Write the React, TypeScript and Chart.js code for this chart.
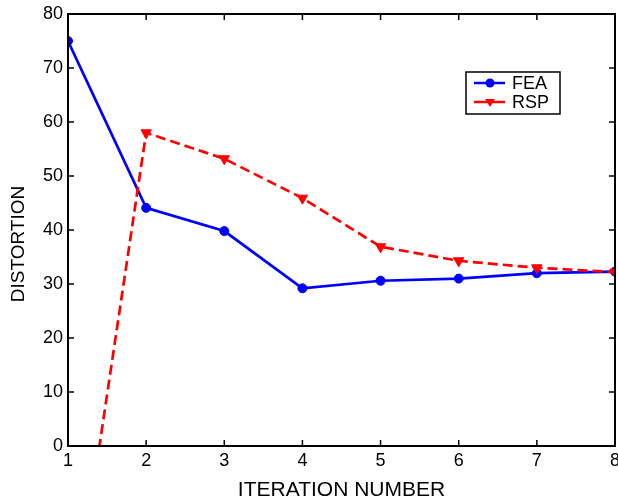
import React, { useEffect, useRef } from "react";
import { Chart, registerables } from "chart.js";

Chart.register(...registerables);

const iterations = [1, 2, 3, 4, 5, 6, 7, 8];
const feaValues = [75, 44.1, 39.8, 29.2, 30.6, 31.0, 32.0, 32.3];
const rspValues = [-39, 58, 53.2, 45.9, 36.9, 34.3, 33.0, 32.2];
const yTicks = [0, 10, 20, 30, 40, 50, 60, 70, 80];
const xTitle = "ITERATION NUMBER";
const yTitle = "DISTORTION";
const FONT = "'Liberation Sans', Arial, Helvetica, sans-serif";

const framePlugin = {
  id: "frameTicks",
  afterDraw(chart: any) {
    const { ctx, chartArea, scales } = chart;
    const { left, right, top, bottom } = chartArea;
    ctx.save();
    ctx.strokeStyle = "#000";
    ctx.lineWidth = 2;
    ctx.setLineDash([]);
    ctx.strokeRect(left, top, right - left, bottom - top);
    ctx.lineWidth = 1.5;
    const tl = 6;
    scales.x.ticks.forEach((t: any) => {
      const px = scales.x.getPixelForValue(t.value);
      ctx.beginPath();
      ctx.moveTo(px, bottom);
      ctx.lineTo(px, bottom - tl);
      ctx.moveTo(px, top);
      ctx.lineTo(px, top + tl);
      ctx.stroke();
    });
    scales.y.ticks.forEach((t: any) => {
      const py = scales.y.getPixelForValue(t.value);
      ctx.beginPath();
      ctx.moveTo(left, py);
      ctx.lineTo(left + tl, py);
      ctx.moveTo(right, py);
      ctx.lineTo(right - tl, py);
      ctx.stroke();
    });
    // y axis title
    ctx.save();
    ctx.translate(18.5, 244);
    ctx.rotate(-Math.PI / 2);
    ctx.fillStyle = "#000";
    ctx.font = `19px ${FONT}`;
    ctx.textAlign = "center";
    ctx.textBaseline = "middle";
    ctx.fillText(yTitle, 0, 0);
    ctx.restore();
    // legend
    const bx = 466, by = 72, bw = 94, bh = 42;
    ctx.fillStyle = "#fff";
    ctx.fillRect(bx, by, bw, bh);
    ctx.strokeStyle = "#000";
    ctx.lineWidth = 1.5;
    ctx.strokeRect(bx, by, bw, bh);
    chart.data.datasets.forEach((ds: any, i: number) => {
      const y = by + 11 + i * 19;
      ctx.strokeStyle = ds.borderColor;
      ctx.lineWidth = 2.5;
      ctx.beginPath();
      ctx.moveTo(bx + 8, y);
      ctx.lineTo(bx + 39, y);
      ctx.stroke();
      ctx.fillStyle = ds.borderColor;
      ctx.beginPath();
      if (ds.pointStyle === "circle") {
        ctx.arc(bx + 24, y, 4.5, 0, Math.PI * 2);
      } else {
        ctx.moveTo(bx + 19, y - 3);
        ctx.lineTo(bx + 29, y - 3);
        ctx.lineTo(bx + 24, y + 5);
        ctx.closePath();
      }
      ctx.fill();
      ctx.fillStyle = "#000";
      ctx.font = `18px ${FONT}`;
      ctx.textBaseline = "middle";
      ctx.textAlign = "left";
      ctx.fillText(ds.label, bx + 46, y + 1);
    });
    ctx.restore();
  },
};

export default function App() {
  const ref = useRef<HTMLCanvasElement>(null);
  useEffect(() => {
    document.body.style.margin = "0";
    const chart = new Chart(ref.current!, {
      type: "line",
      data: {
        datasets: [
          {
            label: "FEA",
            data: iterations.map((x, i) => ({ x, y: feaValues[i] })),
            borderColor: "#0000ff",
            backgroundColor: "#0000ff",
            borderWidth: 2.7,
            pointStyle: "circle",
            pointRadius: 4.5,
            pointBorderWidth: 1,
            order: 1,
          },
          {
            label: "RSP",
            data: iterations.map((x, i) => ({ x, y: rspValues[i] })),
            borderColor: "#ff0000",
            backgroundColor: "#ff0000",
            borderWidth: 2.7,
            borderDash: [10, 5],
            pointStyle: "triangle",
            rotation: 180,
            pointRadius: 6,
            pointBorderWidth: 1,
            order: 0,
          },
        ],
      },
      options: {
        animation: false,
        responsive: false,
        maintainAspectRatio: false,
        layout: { padding: { top: 14, right: 0, left: 0, bottom: 0 } },
        plugins: { legend: { display: false }, tooltip: { enabled: false } },
        scales: {
          x: {
            type: "linear",
            min: 1,
            max: 8,
            grid: { display: false, drawTicks: false, tickLength: 0 },
            border: { display: false },
            ticks: {
              stepSize: 1,
              color: "#000",
              font: { family: FONT, size: 18 },
              padding: 4,
            },
            title: {
              display: true,
              text: xTitle,
              color: "#000",
              font: { family: FONT, size: 21 },
              padding: { top: 0, bottom: -2 },
            },
            afterFit: (s: any) => {
              s.height = 55;
            },
          },
          y: {
            type: "linear",
            min: 0,
            max: 80,
            grid: { display: false, drawTicks: false, tickLength: 0 },
            border: { display: false },
            afterBuildTicks: (s: any) => {
              s.ticks = yTicks.map((v) => ({ value: v }));
            },
            ticks: {
              color: "#000",
              font: { family: FONT, size: 18 },
              padding: 5,
            },
            title: { display: false },
            afterFit: (s: any) => {
              s.width = 68;
              s.paddingTop = 0;
              s.paddingBottom = 0;
            },
          },
        },
      },
      plugins: [framePlugin],
    });
    return () => chart.destroy();
  }, []);
  return (
    <div style={{ position: "absolute", left: 0, top: 0, width: 618, height: 501, overflow: "hidden" }}>
      <canvas ref={ref} width={624} height={501} style={{ width: 624, height: 501 }} />
    </div>
  );
}
